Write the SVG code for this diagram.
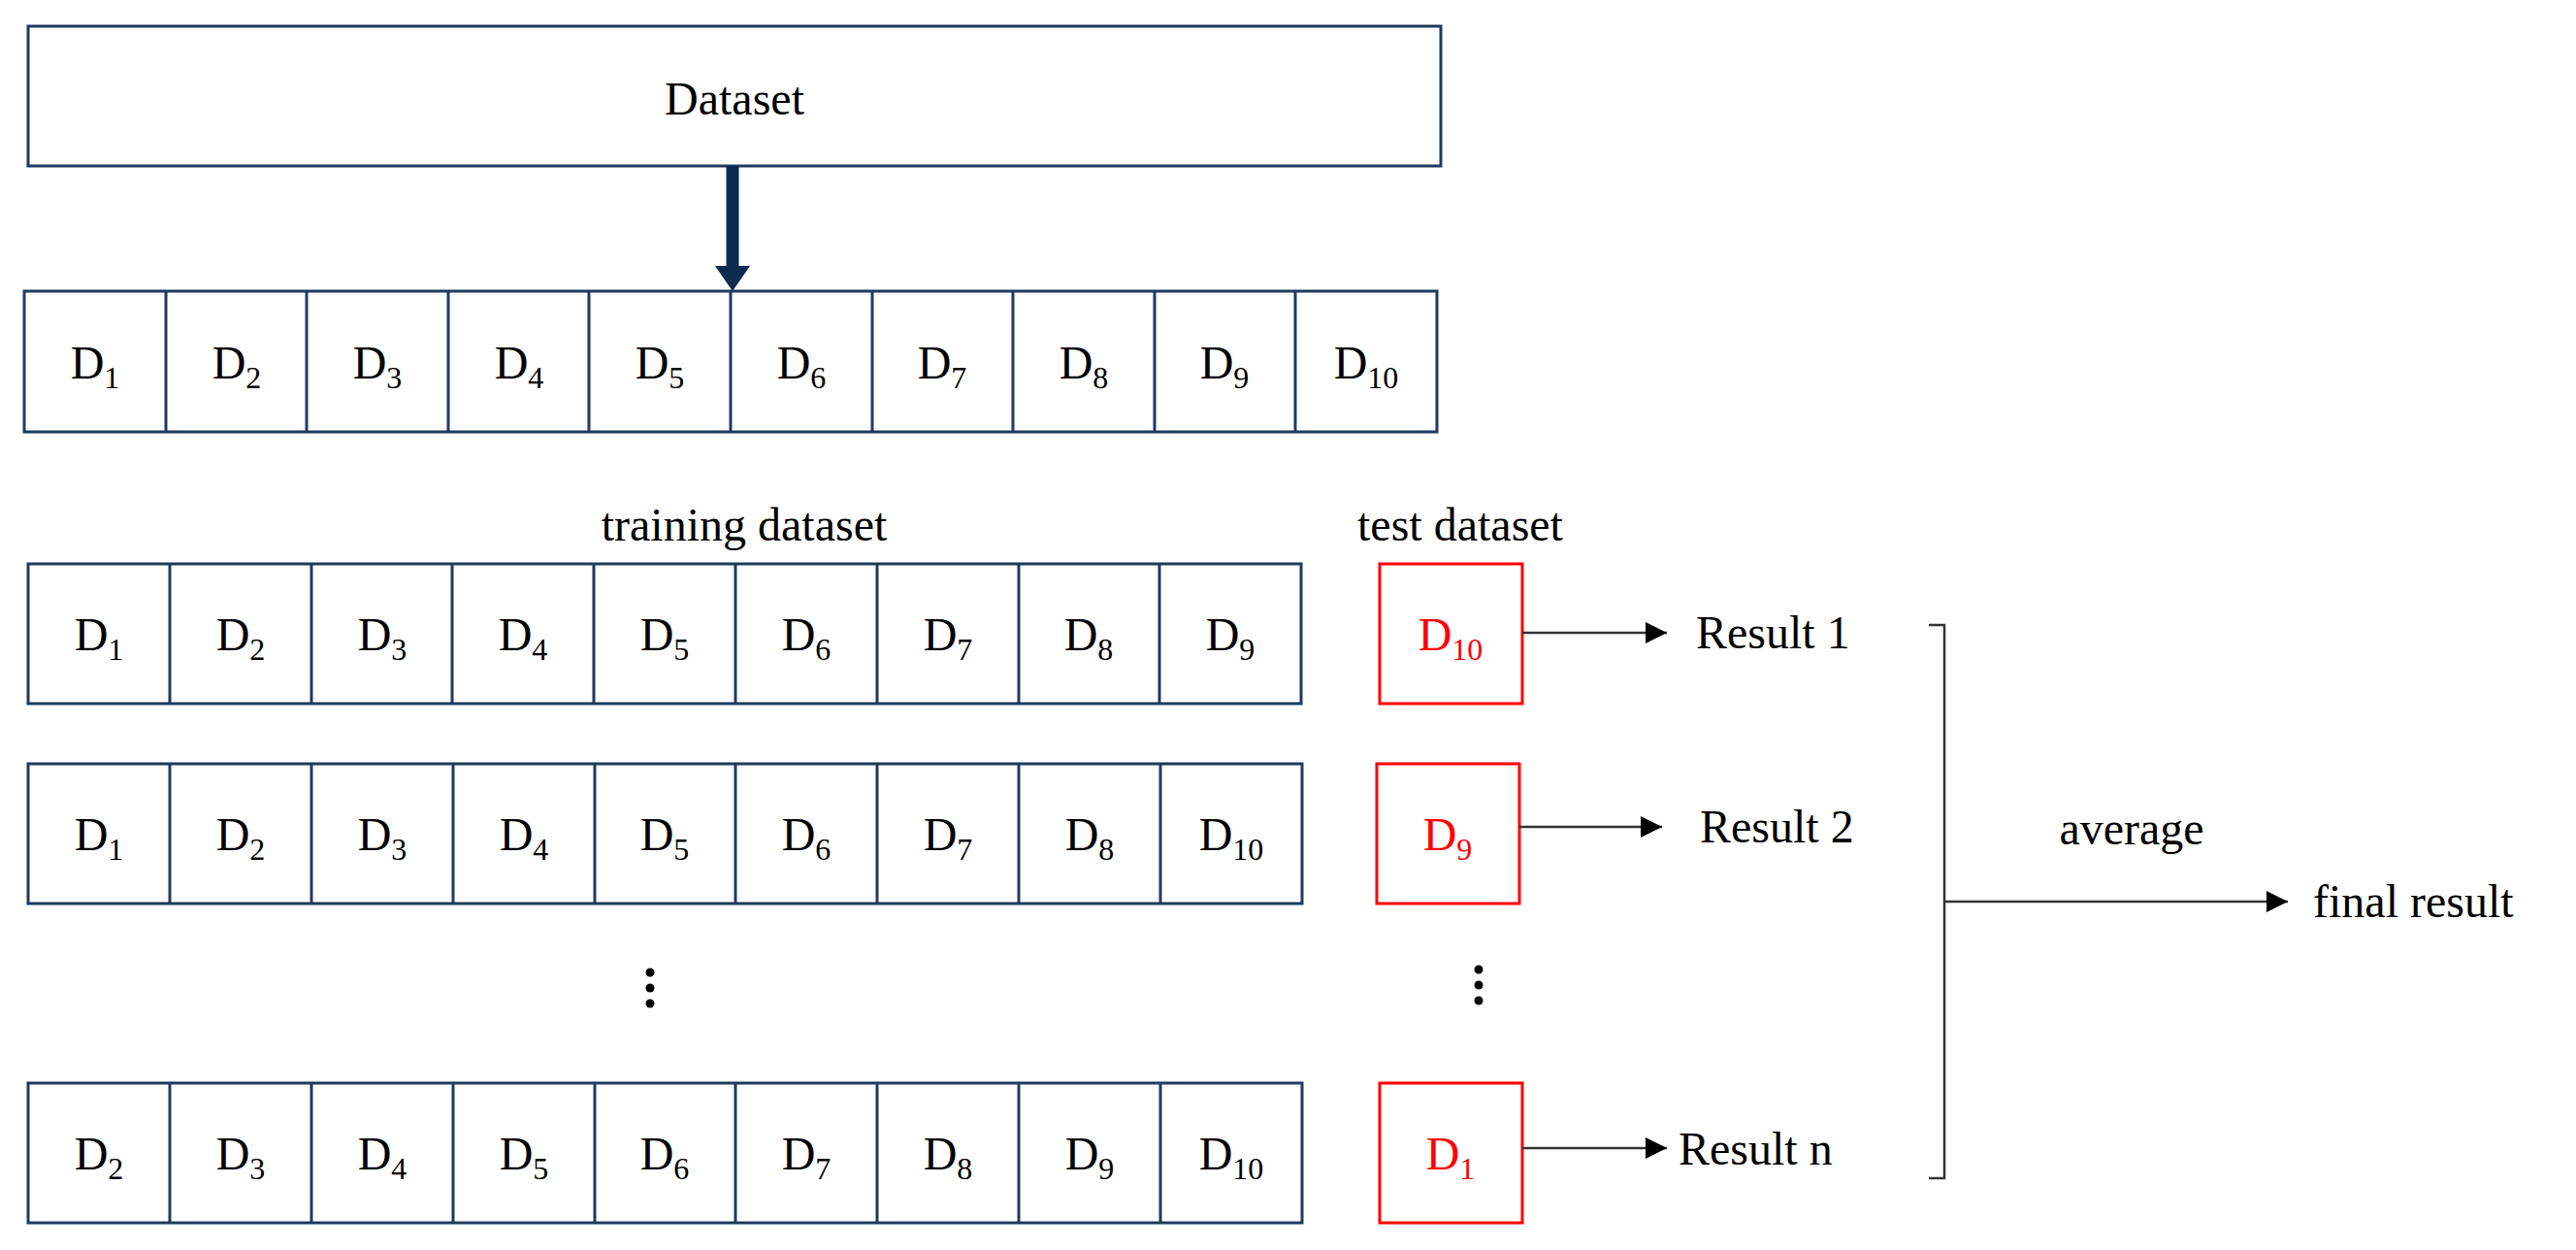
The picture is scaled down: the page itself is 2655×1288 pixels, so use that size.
<svg xmlns="http://www.w3.org/2000/svg" width="2655" height="1288" viewBox="0 0 2655 1288">
<style>
.b{fill:#fff;stroke:#1f3a5f;stroke-width:3}
.r{fill:#fff;stroke:#ff0000;stroke-width:3}
text{font-family:"Liberation Serif","Times New Roman",serif;font-size:48px;fill:#000}
.c{text-anchor:middle}
.red{fill:#ff0000}
.s{font-size:32px}
.l{stroke:#333;stroke-width:2.5;fill:none}
</style>
<defs>
<marker id="a" viewBox="0 0 10 10" refX="10" refY="5" markerWidth="8" markerHeight="8" markerUnits="userSpaceOnUse" orient="auto"><path d="M0,0L10,5L0,10z" fill="#000"/></marker>
<marker id="a2" viewBox="0 0 10 10" refX="10" refY="5" markerWidth="22" markerHeight="22" markerUnits="userSpaceOnUse" orient="auto"><path d="M0,0L10,5L0,10z" fill="#000"/></marker>
</defs>
<g id="dataset"><rect class="b" x="29" y="27" width="1456" height="144"/><text class="c" x="757" y="118">Dataset</text></g>
<g id="row0">
<rect class="b" x="25" y="300" width="1456" height="145"/>
<g class="l" stroke="#1f3a5f"><path d="M171,300V445M316,300V445M462,300V445M607,300V445M753,300V445M899,300V445M1044,300V445M1190,300V445M1335,300V445" stroke="#1f3a5f" stroke-width="3"/></g>
<text class="c" x="98" y="390">D<tspan class="s" dy="10">1</tspan></text>
<text class="c" x="244" y="390">D<tspan class="s" dy="10">2</tspan></text>
<text class="c" x="389" y="390">D<tspan class="s" dy="10">3</tspan></text>
<text class="c" x="535" y="390">D<tspan class="s" dy="10">4</tspan></text>
<text class="c" x="680" y="390">D<tspan class="s" dy="10">5</tspan></text>
<text class="c" x="826" y="390">D<tspan class="s" dy="10">6</tspan></text>
<text class="c" x="971" y="390">D<tspan class="s" dy="10">7</tspan></text>
<text class="c" x="1117" y="390">D<tspan class="s" dy="10">8</tspan></text>
<text class="c" x="1262" y="390">D<tspan class="s" dy="10">9</tspan></text>
<text class="c" x="1408" y="390">D<tspan class="s" dy="10">10</tspan></text>
</g>
<text class="c" x="767" y="557">training dataset</text>
<text class="c" x="1505" y="557">test dataset</text>
<g id="row1">
<rect class="b" x="29" y="581" width="1312" height="144"/>
<path d="M175,581V725M321,581V725M466,581V725M612,581V725M758,581V725M904,581V725M1050,581V725M1195,581V725" stroke="#1f3a5f" stroke-width="3"/>
<text class="c" x="102" y="670">D<tspan class="s" dy="10">1</tspan></text>
<text class="c" x="248" y="670">D<tspan class="s" dy="10">2</tspan></text>
<text class="c" x="394" y="670">D<tspan class="s" dy="10">3</tspan></text>
<text class="c" x="539" y="670">D<tspan class="s" dy="10">4</tspan></text>
<text class="c" x="685" y="670">D<tspan class="s" dy="10">5</tspan></text>
<text class="c" x="831" y="670">D<tspan class="s" dy="10">6</tspan></text>
<text class="c" x="977" y="670">D<tspan class="s" dy="10">7</tspan></text>
<text class="c" x="1122" y="670">D<tspan class="s" dy="10">8</tspan></text>
<text class="c" x="1268" y="670">D<tspan class="s" dy="10">9</tspan></text>
</g>
<g id="test1"><rect class="r" x="1422" y="581" width="147" height="144"/><text class="c red" x="1495" y="670">D<tspan class="s red" dy="10">10</tspan></text></g>
<g id="row2">
<rect class="b" x="29" y="787" width="1313" height="144"/>
<path d="M175,787V931M321,787V931M467,787V931M613,787V931M758,787V931M904,787V931M1050,787V931M1196,787V931" stroke="#1f3a5f" stroke-width="3"/>
<text class="c" x="102" y="876">D<tspan class="s" dy="10">1</tspan></text>
<text class="c" x="248" y="876">D<tspan class="s" dy="10">2</tspan></text>
<text class="c" x="394" y="876">D<tspan class="s" dy="10">3</tspan></text>
<text class="c" x="540" y="876">D<tspan class="s" dy="10">4</tspan></text>
<text class="c" x="685" y="876">D<tspan class="s" dy="10">5</tspan></text>
<text class="c" x="831" y="876">D<tspan class="s" dy="10">6</tspan></text>
<text class="c" x="977" y="876">D<tspan class="s" dy="10">7</tspan></text>
<text class="c" x="1123" y="876">D<tspan class="s" dy="10">8</tspan></text>
<text class="c" x="1269" y="876">D<tspan class="s" dy="10">10</tspan></text>
</g>
<g id="test2"><rect class="r" x="1419" y="787" width="147" height="144"/><text class="c red" x="1492" y="876">D<tspan class="s red" dy="10">9</tspan></text></g>
<g id="dots"><circle cx="670" cy="1002" r="4.5"/><circle cx="670" cy="1018" r="4.5"/><circle cx="670" cy="1034" r="4.5"/><circle cx="1524" cy="999" r="4.5"/><circle cx="1524" cy="1015" r="4.5"/><circle cx="1524" cy="1031" r="4.5"/></g>
<g id="row3">
<rect class="b" x="29" y="1116" width="1313" height="144"/>
<path d="M175,1116V1260M321,1116V1260M467,1116V1260M613,1116V1260M758,1116V1260M904,1116V1260M1050,1116V1260M1196,1116V1260" stroke="#1f3a5f" stroke-width="3"/>
<text class="c" x="102" y="1205">D<tspan class="s" dy="10">2</tspan></text>
<text class="c" x="248" y="1205">D<tspan class="s" dy="10">3</tspan></text>
<text class="c" x="394" y="1205">D<tspan class="s" dy="10">4</tspan></text>
<text class="c" x="540" y="1205">D<tspan class="s" dy="10">5</tspan></text>
<text class="c" x="685" y="1205">D<tspan class="s" dy="10">6</tspan></text>
<text class="c" x="831" y="1205">D<tspan class="s" dy="10">7</tspan></text>
<text class="c" x="977" y="1205">D<tspan class="s" dy="10">8</tspan></text>
<text class="c" x="1123" y="1205">D<tspan class="s" dy="10">9</tspan></text>
<text class="c" x="1269" y="1205">D<tspan class="s" dy="10">10</tspan></text>
</g>
<g id="test3"><rect class="r" x="1422" y="1116" width="147" height="144"/><text class="c red" x="1495" y="1205">D<tspan class="s red" dy="10">1</tspan></text></g>
<g id="labels">
<text x="1748" y="668">Result 1</text>
<text x="1752" y="868">Result 2</text>
<text x="1730" y="1200">Result n</text>
<text class="c" x="2197" y="870">average</text>
<text x="2384" y="945">final result</text>
</g>
<g id="connectors">
<path d="M755,171V276" stroke="#0d2a4f" stroke-width="13"/>
<path d="M737,274L773,274L755,300z" fill="#0d2a4f"/>
<path class="l" d="M1569,652H1718" marker-end="url(#a2)"/>
<path class="l" d="M1566,852H1713" marker-end="url(#a2)"/>
<path class="l" d="M1569,1183H1718" marker-end="url(#a2)"/>
<path class="l" d="M1988,644H2004V1214H1988"/>
<path class="l" d="M2004,929H2358" marker-end="url(#a2)"/>
</g>
</svg>
